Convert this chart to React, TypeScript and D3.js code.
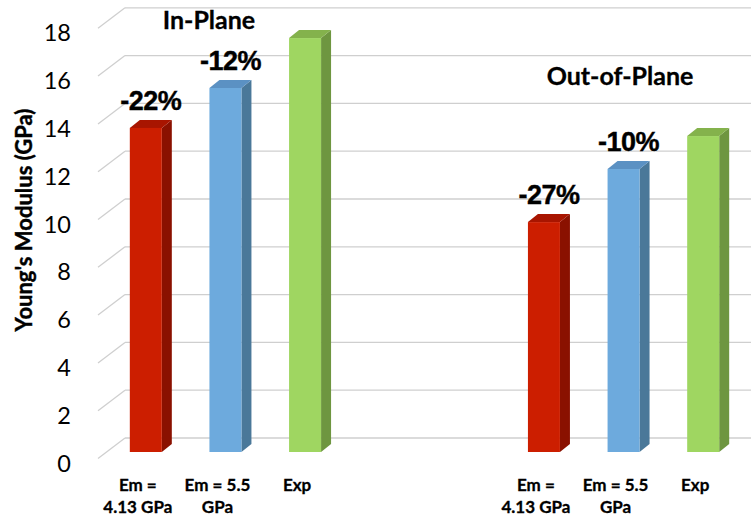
import React from "react";
import * as d3 from "d3";

const categories = ["c0", "c1", "c2", "c3", "c4", "c5", "c6", "c7"];
const categoryLabels: string[][] = [
  ["Em =", "4.13 GPa"],
  ["Em = 5.5", "GPa"],
  ["Exp"],
  [],
  [],
  ["Em =", "4.13 GPa"],
  ["Em = 5.5", "GPa"],
  ["Exp"],
];
const values: (number | null)[] = [13.56, 15.23, 17.32, null, null, 9.62, 11.84, 13.22];
const barKinds: (string | null)[] = ["red", "blue", "green", null, null, "red", "blue", "green"];
const diffLabels: (string | null)[] = ["-22%", "-12%", null, null, null, "-27%", "-10%", null];
const yTicks = [0, 2, 4, 6, 8, 10, 12, 14, 16, 18];
const groupTitles = ["In-Plane", "Out-of-Plane"];

const palette: Record<string, { front: string; top: string; side: string }> = {
  red: { front: "#CC1E00", top: "#A81500", side: "#8A1100" },
  blue: { front: "#6DAADD", top: "#5B91C3", side: "#4A7899" },
  green: { front: "#9FD661", top: "#84B24C", side: "#6E9640" },
};

const W = 751;
const H = 518;

export default function App() {
  const x = d3.scaleBand<string>().domain(categories).range([106, 743]).padding(0);
  const y = d3.scaleLinear().domain([0, 18]).range([452, 452 - 18 * 23.9]);
  const barW = 32;
  const dx = 10;
  const dy = -8;
  const wallDx = 27;
  const backOff = -14;
  const frontOff = 6.5;
  const calibri = "Lato, 'Open Sans', sans-serif";
  const arial = "'Liberation Sans', Arial, sans-serif";

  return (
    <svg
      width={W}
      height={H}
      style={{ position: "absolute", left: 0, top: 0, background: "#fff" }}
    >
      <rect x={0} y={0} width={W} height={H} fill="#fff" />
      {yTicks.map((t) => {
        const yb = y(t) + backOff;
        const yf = y(t) + frontOff;
        const xb = 125;
        return (
          <g key={"g" + t}>
            <line x1={xb} x2={W} y1={yb} y2={yb} stroke="#cfcfcf" strokeWidth={1.3} />
            <line x1={xb - wallDx} x2={xb} y1={yf} y2={yb} stroke="#cfcfcf" strokeWidth={1.3} />
          </g>
        );
      })}
      {yTicks.map((t) => (
        <text
          key={"t" + t}
          x={71}
          y={y(t) + 19.5}
          textAnchor="end"
          fontFamily={calibri}
          fontSize={23.5}
          fill="#000"
        >
          {t}
        </text>
      ))}
      {categories.map((c, i) => {
        const v = values[i];
        const kind = barKinds[i];
        if (v == null || kind == null) return null;
        const col = palette[kind];
        const cx = (x(c) as number) + x.bandwidth() / 2;
        const x0 = cx - barW / 2;
        const x1 = cx + barW / 2;
        const yt = y(v);
        const yb = y(0);
        const top = `M${x0},${yt} L${x0 + dx},${yt + dy} L${x1 + dx},${yt + dy} L${x1},${yt} Z`;
        const side = `M${x1},${yt} L${x1 + dx},${yt + dy} L${x1 + dx},${yb + dy} L${x1},${yb} Z`;
        return (
          <g key={"b" + c}>
            <path d={side} fill={col.side} />
            <path d={top} fill={col.top} />
            <rect x={x0} y={yt} width={barW} height={yb - yt} fill={col.front} />
          </g>
        );
      })}
      {categories.map((c, i) => {
        const lab = diffLabels[i];
        const v = values[i];
        if (!lab || v == null) return null;
        const cx = (x(c) as number) + x.bandwidth() / 2 + dx / 2;
        return (
          <text
            key={"d" + c}
            x={cx}
            y={y(v) - 18}
            textAnchor="middle"
            fontFamily={arial}
            fontWeight="bold"
            fontSize={27}
            letterSpacing={-0.5}
            fill="#000"
            stroke="#000"
            strokeWidth={0.4}
          >
            {lab}
          </text>
        );
      })}
      {categories.map((c, i) => {
        const lines = categoryLabels[i];
        const cx = (x(c) as number) + x.bandwidth() / 2 - 8;
        return (
          <text
            key={"c" + c}
            textAnchor="middle"
            fontFamily={calibri}
            fontWeight="bold"
            fontSize={17}
            fill="#000"
            stroke="#000"
            strokeWidth={0.3}
          >
            {lines.map((l, k) => (
              <tspan key={k} x={cx} y={491 + k * 22}>
                {l}
              </tspan>
            ))}
          </text>
        );
      })}
      <text x={209} y={29} textAnchor="middle" fontFamily={calibri} fontWeight="bold" fontSize={25} fill="#000" stroke="#000" strokeWidth={0.3}>
        {groupTitles[0]}
      </text>
      <text x={620} y={85} textAnchor="middle" fontFamily={calibri} fontWeight="bold" fontSize={25} fill="#000" stroke="#000" strokeWidth={0.3}>
        {groupTitles[1]}
      </text>
      <text
        transform="translate(32,220) rotate(-90)"
        textAnchor="middle"
        fontFamily={calibri}
        fontWeight="bold"
        fontSize={22}
        fill="#000"
        stroke="#000"
        strokeWidth={0.4}
      >
        Young's Modulus (GPa)
      </text>
    </svg>
  );
}
